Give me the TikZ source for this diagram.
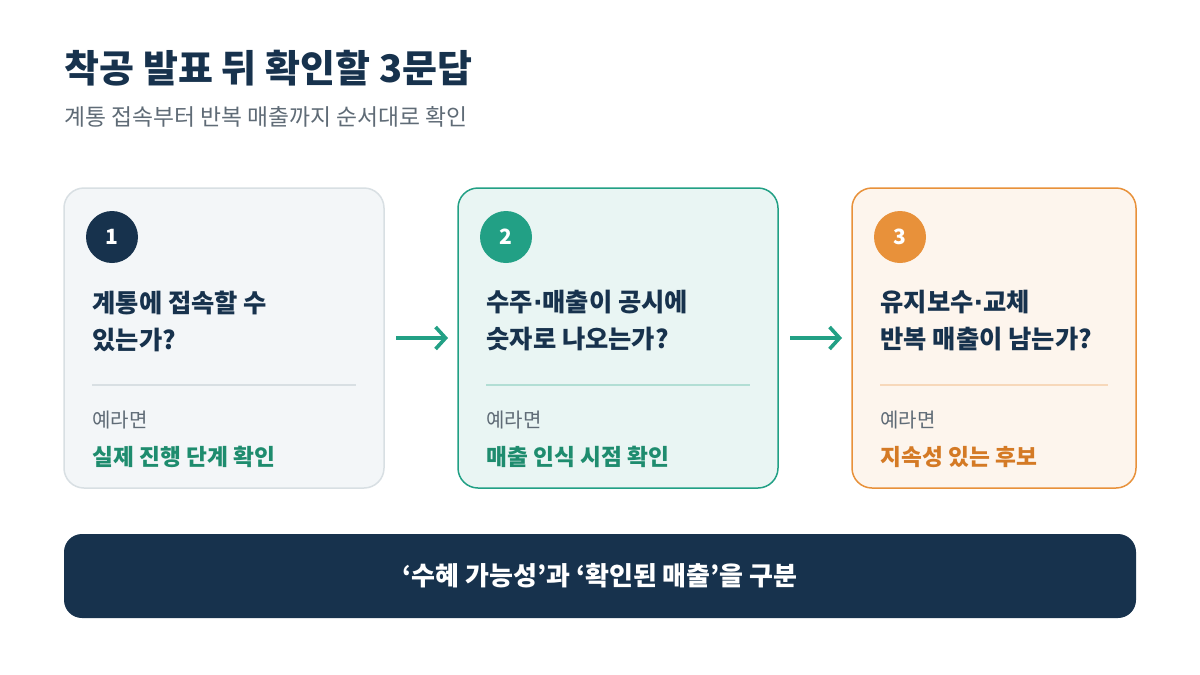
\documentclass[tikz,border=0pt]{standalone}
\usepackage{fontspec}
\setmainfont{Noto Sans CJK KR}
\newfontfamily\djv{DejaVu Sans}
\usetikzlibrary{arrows.meta}
\definecolor{navy}{HTML}{17324D}
\definecolor{teal}{HTML}{22A085}
\definecolor{tealt}{HTML}{1E8C6E}
\definecolor{org}{HTML}{E8913A}
\definecolor{orgt}{HTML}{D47A25}
\definecolor{gry}{HTML}{5F6B76}
\definecolor{c1f}{HTML}{F3F6F8}
\definecolor{c1d}{HTML}{D8DFE3}
\newcommand{\mdot}{{\djv\bfseries ·}}
\begin{document}
\begin{tikzpicture}[x=1pt,y=-1pt,
 card/.style={rounded corners=20pt,line width=1.5pt},
 num/.style={circle,minimum size=52pt,inner sep=0,text=white,font=\fontsize{21}{21}\selectfont\bfseries},
 q/.style={anchor=west,align=left,text=navy,font=\fontsize{25.3}{37}\selectfont\bfseries},
 ex/.style={anchor=west,text=gry,font=\fontsize{20}{20}\selectfont},
 ans/.style={anchor=west,font=\fontsize{22.7}{22}\selectfont\bfseries},
 arr/.style={-{Straight Barb[length=10pt,width=22pt]},line width=3.6pt,teal}]
\useasboundingbox[fill=white] (0,0) rectangle (1200,675);
\node[anchor=west,text=navy,font=\fontsize{38}{38}\selectfont\bfseries] (title) at (61,68) {착공 발표 뒤 확인할 3문답};
\node[anchor=west,text=gry,font=\fontsize{22.8}{22}\selectfont] (sub) at (61,117) {계통 접속부터 반복 매출까지 순서대로 확인};
% cards
\draw[card,draw=c1d,fill=c1f] (64,188) rectangle (384,488);
\draw[card,draw=teal,fill=teal!10] (458,188) rectangle (778,488);
\draw[card,draw=org,fill=org!9] (852,188) rectangle (1136,488);
\node[num,fill=navy] (n1) at (112,237) {1};
\node[num,fill=teal] (n2) at (506,237) {2};
\node[num,fill=org] (n3) at (900,237) {3};
\node[q] (q1) at (89,321) {계통에 접속할 수\\있는가?};
\node[q] (q2) at (483,321) {수주\mdot 매출이 공시에\\숫자로 나오는가?};
\node[q] (q3) at (877,321) {유지보수\mdot 교체\\반복 매출이 남는가?};
\draw[c1d,line width=1.2pt] (92,385) -- (356,385);
\draw[teal!35,line width=1.2pt] (486,385) -- (750,385);
\draw[org!35,line width=1.2pt] (880,385) -- (1108,385);
\node[ex] (e1) at (89,420) {예라면};
\node[ex] (e2) at (483,420) {예라면};
\node[ex] (e3) at (877,420) {예라면};
\node[ans,text=tealt] (a1) at (89,457) {실제 진행 단계 확인};
\node[ans,text=tealt] (a2) at (483,457) {매출 인식 시점 확인};
\node[ans,text=orgt] (a3) at (877,457) {지속성 있는 후보};
\coordinate (s1) at (396,338); \coordinate (t1) at (448,338);
\coordinate (s2) at (790,338); \coordinate (t2) at (842,338);
\draw[arr] (s1) -- (t1);
\draw[arr] (s2) -- (t2);
\node[fill=navy,rounded corners=18pt,minimum width=1072pt,minimum height=84pt,text=white,font=\fontsize{26}{26}\selectfont\bfseries] (bar) at (600,576) {‘수혜 가능성’과 ‘확인된 매출’을 구분};
\end{tikzpicture}
\end{document}
